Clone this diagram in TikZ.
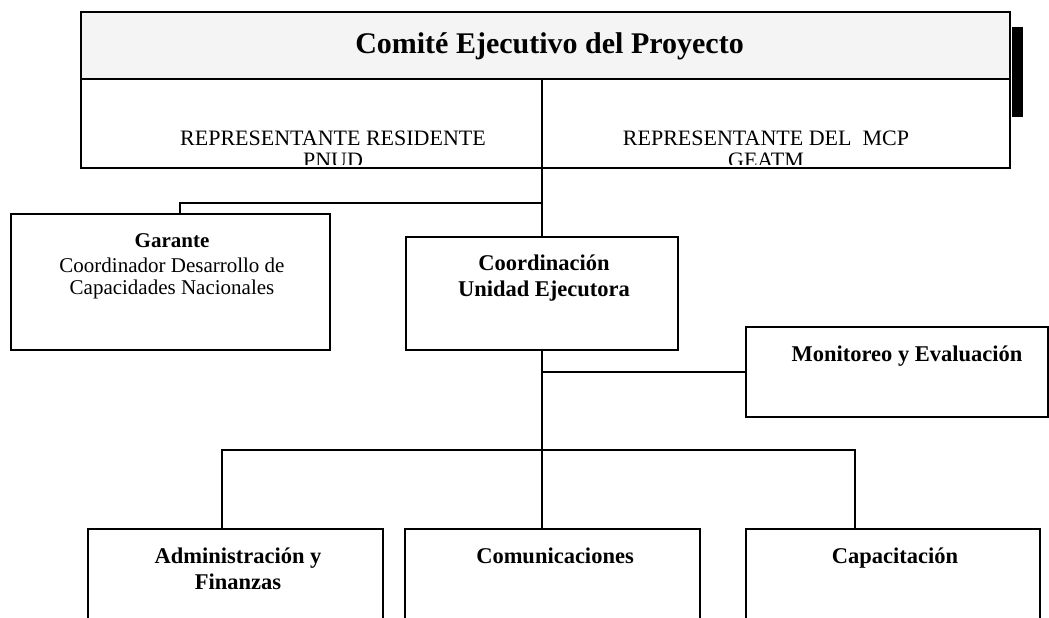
\documentclass[tikz,border=0pt]{standalone}
\usepackage{fontspec}
\setmainfont{Liberation Serif}
\usetikzlibrary{positioning}
\begin{document}
\begin{tikzpicture}[x=1pt,y=-1pt,line width=1.8pt,
 caja/.style={draw,inner sep=0,outer sep=0},
 negrita/.style={font=\fontsize{22.5}{26}\selectfont\bfseries,align=center,anchor=base,inner sep=0},
 normal/.style={font=\fontsize{22}{22}\selectfont,align=center,anchor=base,inner sep=0}]
 \useasboundingbox (0,0) rectangle (1049,618);
 \clip (0,0) rectangle (1049,618);
 % comite
 \fill (1012,27) rectangle (1023,117);
 \node[caja,fill=gray!9,line width=2.4pt,minimum width=929pt,minimum height=67pt] (comite) at (545.5,45.5) {};
 \node[font=\fontsize{30}{34}\selectfont\bfseries,anchor=base,inner sep=0] (comitetxt) at (549.5,53) {Comité Ejecutivo del Proyecto};
 % representantes
 \node[caja,minimum width=461pt,minimum height=89pt] (pnud) at (311.5,123.5) {};
 \node[caja,minimum width=468pt,minimum height=89pt] (mcp) at (776,123.5) {};
 \begin{scope}
 \clip (81,79) rectangle (1010,164);
 \node[normal] (pnudtxt) at (333,167) {REPRESENTANTE RESIDENTE\\PNUD};
 \node[normal] (mcptxt) at (766,167) {REPRESENTANTE DEL\ \ MCP\\GEATM};
 \end{scope}
 % garante y coordinacion
 \node[caja,minimum width=319pt,minimum height=136pt] (garante) at (170.5,282) {};
 \node[font=\fontsize{21}{22}\selectfont,align=center,anchor=base,inner sep=0] (garantetxt) at (172,294)
 {\textbf{Garante}\\[3pt]Coordinador Desarrollo de\\Capacidades Nacionales};
 \node[caja,minimum width=272pt,minimum height=113pt] (coord) at (542,293.5) {};
 \node[negrita] (coordtxt) at (544,296) {Coordinación\\Unidad Ejecutora};
 \node[caja,minimum width=302pt,minimum height=90pt] (monitoreo) at (897,372) {};
 \node[negrita] (monitoreotxt) at (907,361) {Monitoreo y Evaluación};
 % areas
 \node[caja,minimum width=295pt,minimum height=111pt] (admin) at (235.5,584.5) {};
 \node[negrita] (admintxt) at (238,589) {Administración y\\Finanzas};
 \node[caja,minimum width=295pt,minimum height=111pt] (comunic) at (552.5,584.5) {};
 \node[negrita] (comunictxt) at (555,563) {Comunicaciones};
 \node[caja,minimum width=294pt,minimum height=111pt] (capac) at (893,584.5) {};
 \node[negrita] (capactxt) at (895,563) {Capacitación};
 % conectores
 \draw (pnud.south east) -- (coord.north);
 \draw (coord.north) ++(0,-34) -| ([xshift=9.5pt]garante.north);
 \draw (coord.south) -- (coord.south |- comunic.north);
 \draw (coord.south |- monitoreo.west) -- (monitoreo.west);
 \coordinate (reparto) at (coord.south |- 0,450);
 \draw ([xshift=-13.5pt]admin.north) |- (reparto) -| ([xshift=-38pt]capac.north);
\end{tikzpicture}
\end{document}
